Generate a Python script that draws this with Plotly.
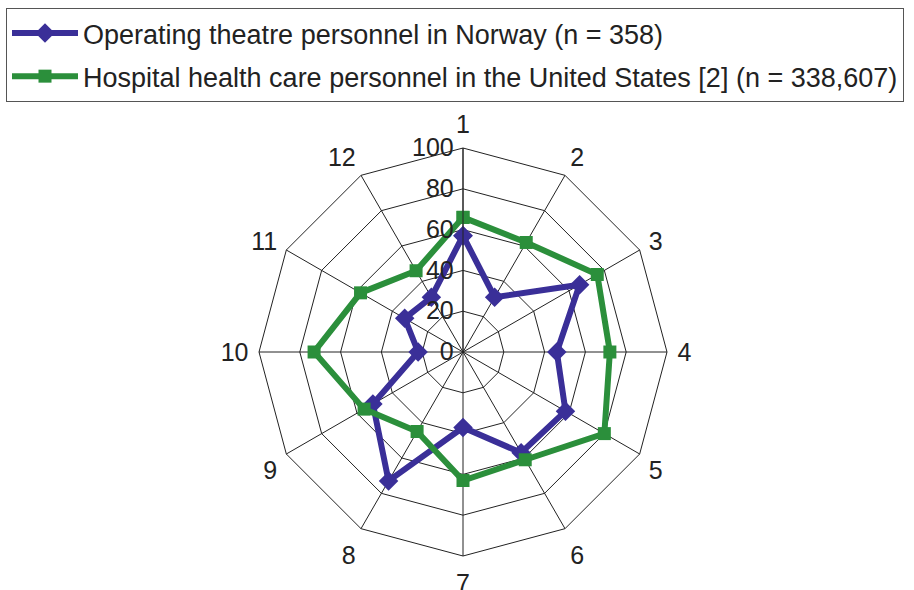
import plotly.graph_objects as go

categories = ["1", "2", "3", "4", "5", "6", "7", "8", "9", "10", "11", "12"]
norway = [57, 31, 66, 46, 58, 57, 37, 73, 51, 22, 33, 31]
usa = [66, 62, 76, 72, 80, 61, 63, 45, 56, 73, 58, 46]
radial_ticks = [0, 20, 40, 60, 80, 100]

series_names = [
    "Operating theatre personnel in Norway (n = 358)",
    "Hospital health care personnel in the United States [2] (n = 338,607)",
]

BLUE = "#3a2f98"
GREEN = "#2b8f3b"
FONT = "Liberation Sans, Arial, sans-serif"
TXT = "#222222"

fig = go.Figure()
fig.add_trace(go.Scatterpolar(
    r=norway + norway[:1], theta=categories + categories[:1],
    mode="lines+markers", name=series_names[0], legendgroup="a",
    line=dict(color=BLUE, width=6),
    marker=dict(symbol="diamond", size=15, color=BLUE),
))
fig.add_trace(go.Scatterpolar(
    r=usa + usa[:1], theta=categories + categories[:1],
    mode="lines+markers", name=series_names[1], legendgroup="b",
    line=dict(color=GREEN, width=6),
    marker=dict(symbol="square", size=13, color=GREEN),
))

cx, cy, R = 463, 352, 204
W, H = 914, 590
fig.update_layout(
    width=W, height=H,
    margin=dict(l=0, r=0, t=0, b=0),
    paper_bgcolor="white", plot_bgcolor="white",
    font=dict(family=FONT, size=25, color=TXT),
    showlegend=True,
    legend=dict(
        x=6 / W, y=1 - 8 / H, xanchor="left", yanchor="top",
        bordercolor="#555555", borderwidth=1, bgcolor="white",
        font=dict(family=FONT, size=27, color=TXT),
        traceorder="grouped", tracegroupgap=5, itemwidth=66,
    ),
    polar=dict(
        domain=dict(x=[(cx - R) / W, (cx + R) / W],
                    y=[(H - cy - R) / H, (H - cy + R) / H]),
        gridshape="linear",
        bgcolor="white",
        angularaxis=dict(
            direction="clockwise", rotation=90, type="category",
            categoryarray=categories,
            showline=True, linecolor=TXT, linewidth=1,
            showgrid=True, gridcolor=TXT, gridwidth=1,
            ticks="outside", ticklen=5, tickcolor="rgba(0,0,0,0)",
            tickfont=dict(family=FONT, size=25, color=TXT),
        ),
        radialaxis=dict(
            range=[0, 100], tickvals=radial_ticks, angle=90, tickangle=90,
            side="counterclockwise",
            showline=True, linecolor=TXT, linewidth=1,
            showgrid=True, gridcolor=TXT, gridwidth=1,
            ticks="", tickfont=dict(family=FONT, size=25, color=TXT),
        ),
    ),
)

fig.write_html("out.html", config={"displayModeBar": False},
               post_script="document.body.style.margin='0';")
